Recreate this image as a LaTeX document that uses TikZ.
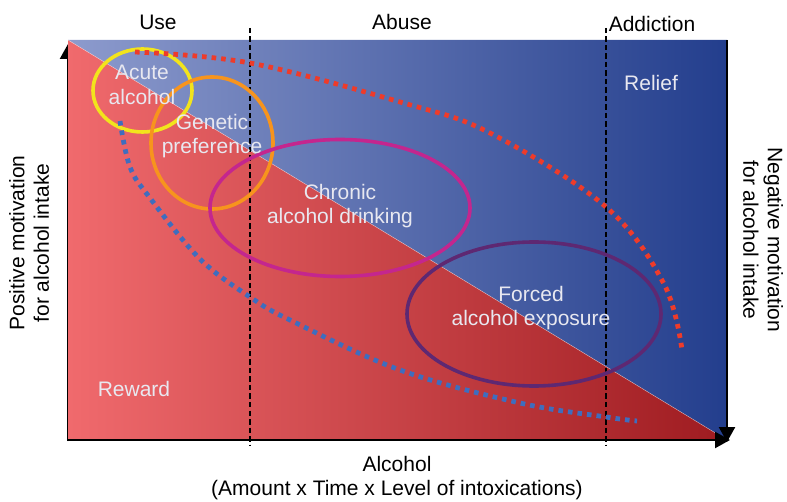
\documentclass[tikz,border=0pt]{standalone}
\usepackage{fontspec}
\setmainfont{Liberation Sans}
\usetikzlibrary{arrows.meta,shapes.geometric}
\definecolor{redL}{HTML}{F06A6D}
\definecolor{redR}{HTML}{9E1B20}
\definecolor{blueL}{HTML}{8D9BCD}
\definecolor{blueR}{HTML}{233E8D}
\definecolor{txtc}{HTML}{E8E8F0}
\definecolor{cyellow}{HTML}{F2E41C}
\definecolor{corange}{HTML}{F7941D}
\definecolor{cmagenta}{HTML}{C4268E}
\definecolor{cpurple}{HTML}{5E2872}
\definecolor{dotred}{HTML}{EE3B2A}
\definecolor{dotblue}{HTML}{3F6DBE}
\tikzset{
  lbl/.style={font=\fontsize{21}{24.5}\selectfont, text=black, inner sep=0pt, align=center},
  inlbl/.style={font=\fontsize{21}{24.5}\selectfont, text=txtc, inner sep=0pt, align=center},
  ring/.style={ellipse, draw, line width=3.6pt, inner sep=0pt},
  axisline/.style={line width=2.4pt, black, -{Triangle[length=15pt,width=16pt]}},
  phase/.style={line width=1.1pt, black, dash pattern=on 5.5pt off 3pt},
  dotline/.style={line width=4.8pt, dash pattern=on 4.6pt off 5pt},
}
\begin{document}
\begin{tikzpicture}[x=1pt,y=-1pt]
\useasboundingbox (0,0) rectangle (787,502);
\coordinate (TL) at (68,40);
\coordinate (TR) at (727,40);
\coordinate (BR) at (727,440);
\coordinate (BL) at (68,441);
\coordinate (Ytop) at (68,44);
\coordinate (Xend) at (730,440);
\coordinate (Rtop) at (727,40);
\coordinate (Rend) at (727,442);
% left axis (mostly hidden by the fills)
\draw[axisline] (BL) -- (Ytop);
% fills
\shade[left color=blueL, right color=blueR] (TL) -- (TR) -- (BR) -- cycle;
\shade[left color=redL, right color=redR] (TL) -- (BR) -- (BL) -- cycle;
\draw[white, opacity=0.5, line width=0.5pt] (TL) -- (BR);
% phase separators
\coordinate (d1t) at (250,28); \coordinate (d1b) at (250,446);
\coordinate (d2t) at (606,28); \coordinate (d2b) at (606,446);
\draw[phase] (d1t) -- (d1b);
\draw[phase] (d2t) -- (d2b);
% axes
\draw[axisline] (68,440) -- (Xend);
\draw[axisline] (Rtop) -- (Rend);
% rings
\node[ring, draw=cyellow, minimum width=99pt, minimum height=83pt] (acute) at (142.5,90.5) {};
\node[ring, draw=corange, minimum width=122pt, minimum height=132pt] (genetic) at (212,143) {};
\node[ring, draw=cmagenta, minimum width=260pt, minimum height=137pt] (chronic) at (340,208) {};
\node[ring, draw=cpurple, minimum width=254pt, minimum height=144pt] (forced) at (534,314) {};
% dotted trends
\draw[dotline, dotred] plot[smooth, tension=0.6] coordinates {(135,52) (250,63) (400,102) (490,133) (606,207) (664,284) (682,350)};
\draw[dotline, dotblue] plot[smooth, tension=0.6] coordinates {(120,121) (130,167) (150,198) (200,259) (250,297) (290,320) (400,370) (520,403) (606,417) (637,421)};
% inner labels
\node[inlbl] (tacute) at (142,85) {Acute\\alcohol};
\node[inlbl] (tgen) at (212,136) {Genetic\\preference};
\node[inlbl] (tchr) at (340,206) {Chronic\\alcohol drinking};
\node[inlbl] (tfor) at (531,308) {Forced\\alcohol exposure};
\node[inlbl] (relief) at (651,83) {Relief};
\node[inlbl] (reward) at (134,389) {Reward};
% outer labels
\node[lbl] (use) at (158,22) {Use};
\node[lbl] (abuse) at (402,22) {Abuse};
\node[lbl] (addic) at (652,24) {Addiction};
\node[lbl] (xlab) at (397,478) {Alcohol\\(Amount x Time x Level of intoxications)};
\node[lbl, rotate=90] (ylab) at (29,243) {Positive motivation\\for alcohol intake};
\node[lbl, rotate=-90] (rlab) at (763,240) {Negative motivation\\for alcohol intake};
\end{tikzpicture}
\end{document}
